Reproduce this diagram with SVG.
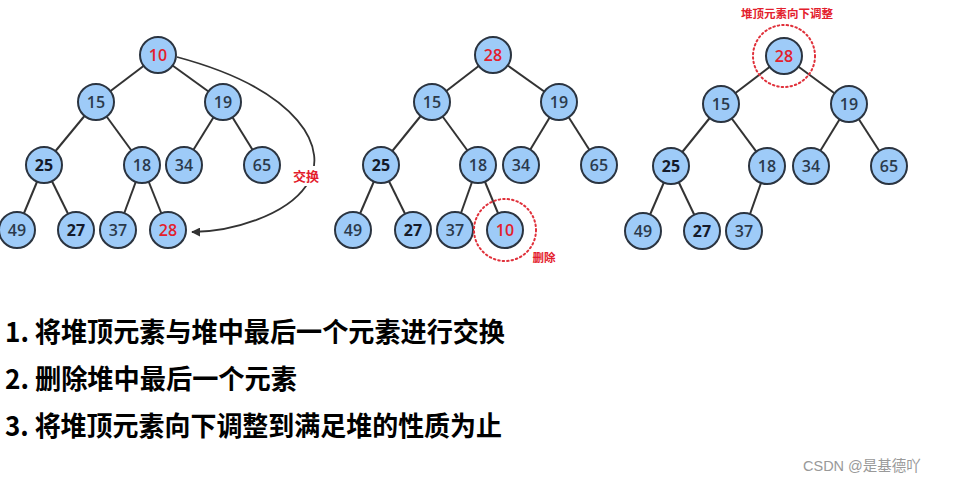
<svg xmlns="http://www.w3.org/2000/svg" width="955" height="488" viewBox="0 0 955 488">
<style>
.n circle{fill:#9ecbf8;stroke:#2b3440;stroke-width:2}
.n text{font-family:"Open Sans","Noto Sans",sans-serif;font-size:16px;font-weight:600;fill:#2b3a4c;text-anchor:middle;dominant-baseline:central}
.n text.dk{font-weight:700;fill:#141a2a}
.n text.red{fill:#e3202c}
.e line{stroke:#333;stroke-width:2}
.dot{fill:none;stroke:#e0303a;stroke-width:2;stroke-dasharray:1.5 3;stroke-linecap:round}
.lbl{font-family:"Noto Sans CJK SC",sans-serif;font-weight:700;fill:#e3202c;text-anchor:middle}
.step{font-family:"Noto Sans CJK SC","Liberation Sans",sans-serif;font-weight:700;font-size:27px;fill:#000}
</style>
<defs>
<marker id="ah" viewBox="0 0 10 10" refX="9" refY="5" markerWidth="9" markerHeight="9" markerUnits="userSpaceOnUse" orient="auto">
<path d="M0,0 L10,5 L0,10 z" fill="#333"/>
</marker>
</defs>
<rect width="955" height="488" fill="#fff"/>
<g id="connectors" class="e">
<line x1="158" y1="55" x2="96" y2="102"/><line x1="158" y1="55" x2="223" y2="102"/>
<line x1="96" y1="102" x2="44" y2="165"/><line x1="96" y1="102" x2="142" y2="165"/>
<line x1="223" y1="102" x2="184" y2="165"/><line x1="223" y1="102" x2="262" y2="165"/>
<line x1="44" y1="165" x2="17" y2="230"/><line x1="44" y1="165" x2="76" y2="230"/>
<line x1="142" y1="165" x2="118" y2="230"/><line x1="142" y1="165" x2="168" y2="230"/>
<path d="M177,57 C300,90 332,150 306,186 C286,215 232,232 192,232" fill="none" stroke="#333" stroke-width="1.8" marker-end="url(#ah)"/>
<line x1="493" y1="55" x2="432" y2="102"/><line x1="493" y1="55" x2="559" y2="102"/>
<line x1="432" y1="102" x2="381" y2="165"/><line x1="432" y1="102" x2="478" y2="165"/>
<line x1="559" y1="102" x2="521" y2="165"/><line x1="559" y1="102" x2="599" y2="165"/>
<line x1="381" y1="165" x2="353" y2="230"/><line x1="381" y1="165" x2="413" y2="230"/>
<line x1="478" y1="165" x2="455" y2="230"/><line x1="478" y1="165" x2="505" y2="230"/>
<line x1="784" y1="56" x2="721" y2="104"/><line x1="784" y1="56" x2="849" y2="104"/>
<line x1="721" y1="104" x2="671" y2="166"/><line x1="721" y1="104" x2="767" y2="166"/>
<line x1="849" y1="104" x2="811" y2="166"/><line x1="849" y1="104" x2="889" y2="166"/>
<line x1="671" y1="166" x2="643" y2="231"/><line x1="671" y1="166" x2="702" y2="231"/>
<line x1="767" y1="166" x2="744" y2="231"/>
</g>
<rect x="291" y="166" width="30" height="20" fill="#fff"/>
<text class="lbl" x="306" y="181" font-size="13">交换</text>
<g id="t1-10" class="n"><circle cx="158" cy="55" r="18"/><text class="red" x="158" y="55">10</text></g>
<g id="t1-15" class="n"><circle cx="96" cy="102" r="18"/><text x="96" y="102">15</text></g>
<g id="t1-19" class="n"><circle cx="223" cy="102" r="18"/><text x="223" y="102">19</text></g>
<g id="t1-25" class="n"><circle cx="44" cy="165" r="18"/><text class="dk" x="44" y="165">25</text></g>
<g id="t1-18" class="n"><circle cx="142" cy="165" r="18"/><text x="142" y="165">18</text></g>
<g id="t1-34" class="n"><circle cx="184" cy="165" r="18"/><text x="184" y="165">34</text></g>
<g id="t1-65" class="n"><circle cx="262" cy="165" r="18"/><text x="262" y="165">65</text></g>
<g id="t1-49" class="n"><circle cx="17" cy="230" r="18"/><text x="17" y="230">49</text></g>
<g id="t1-27" class="n"><circle cx="76" cy="230" r="18"/><text class="dk" x="76" y="230">27</text></g>
<g id="t1-37" class="n"><circle cx="118" cy="230" r="18"/><text x="118" y="230">37</text></g>
<g id="t1-28" class="n"><circle cx="168" cy="230" r="18"/><text class="red" x="168" y="230">28</text></g>
<g id="t2-28" class="n"><circle cx="493" cy="55" r="18"/><text class="red" x="493" y="55">28</text></g>
<g id="t2-15" class="n"><circle cx="432" cy="102" r="18"/><text x="432" y="102">15</text></g>
<g id="t2-19" class="n"><circle cx="559" cy="102" r="18"/><text x="559" y="102">19</text></g>
<g id="t2-25" class="n"><circle cx="381" cy="165" r="18"/><text class="dk" x="381" y="165">25</text></g>
<g id="t2-18" class="n"><circle cx="478" cy="165" r="18"/><text x="478" y="165">18</text></g>
<g id="t2-34" class="n"><circle cx="521" cy="165" r="18"/><text x="521" y="165">34</text></g>
<g id="t2-65" class="n"><circle cx="599" cy="165" r="18"/><text x="599" y="165">65</text></g>
<g id="t2-49" class="n"><circle cx="353" cy="230" r="18"/><text x="353" y="230">49</text></g>
<g id="t2-27" class="n"><circle cx="413" cy="230" r="18"/><text class="dk" x="413" y="230">27</text></g>
<g id="t2-37" class="n"><circle cx="455" cy="230" r="18"/><text x="455" y="230">37</text></g>
<g id="t2-10" class="n"><circle cx="505" cy="230" r="18"/><text class="red" x="505" y="230">10</text></g>
<circle class="dot" cx="505" cy="230" r="31"/>
<text class="lbl" x="544" y="262" font-size="11.5">删除</text>
<g id="t3-28" class="n"><circle cx="784" cy="56" r="18"/><text class="red" x="784" y="56">28</text></g>
<g id="t3-15" class="n"><circle cx="721" cy="104" r="18"/><text x="721" y="104">15</text></g>
<g id="t3-19" class="n"><circle cx="849" cy="104" r="18"/><text x="849" y="104">19</text></g>
<g id="t3-25" class="n"><circle cx="671" cy="166" r="18"/><text class="dk" x="671" y="166">25</text></g>
<g id="t3-18" class="n"><circle cx="767" cy="166" r="18"/><text x="767" y="166">18</text></g>
<g id="t3-34" class="n"><circle cx="811" cy="166" r="18"/><text x="811" y="166">34</text></g>
<g id="t3-65" class="n"><circle cx="889" cy="166" r="18"/><text x="889" y="166">65</text></g>
<g id="t3-49" class="n"><circle cx="643" cy="231" r="18"/><text x="643" y="231">49</text></g>
<g id="t3-27" class="n"><circle cx="702" cy="231" r="18"/><text class="dk" x="702" y="231">27</text></g>
<g id="t3-37" class="n"><circle cx="744" cy="231" r="18"/><text x="744" y="231">37</text></g>
<circle class="dot" cx="784" cy="56" r="31"/>
<text class="lbl" x="787" y="18" font-size="11.5">堆顶元素向下调整</text>
<text class="step" x="5" y="342" textLength="500" lengthAdjust="spacingAndGlyphs">1. 将堆顶元素与堆中最后一个元素进行交换</text>
<text class="step" x="5" y="389" textLength="292" lengthAdjust="spacingAndGlyphs">2. 删除堆中最后一个元素</text>
<text class="step" x="5" y="436" textLength="497" lengthAdjust="spacingAndGlyphs">3. 将堆顶元素向下调整到满足堆的性质为止</text>
<text x="803" y="471" font-family="'Liberation Sans','Noto Sans CJK SC',sans-serif" font-size="14.5" fill="#999">CSDN @是基德吖</text>
</svg>
